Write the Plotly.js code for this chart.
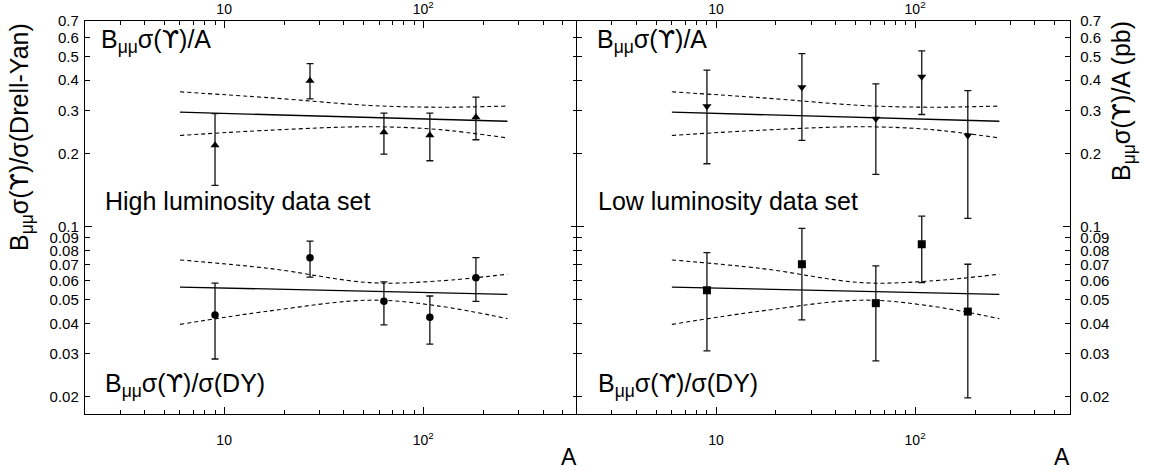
<!DOCTYPE html>
<html><head><meta charset="utf-8">
<script src="https://cdn.plot.ly/plotly-3.0.1.min.js"></script>
<style>body{margin:0;background:#fff}#chart{width:1152px;height:473px}</style>
</head><body><div id="chart"></div>
<script>
// ---- data ----
const massNumbers = [9, 27, 63.5, 108, 184];

// High luminosity data set
const highPerA     = [0.216, 0.398, 0.2445, 0.2377, 0.2818];
const highPerAUp   = [0.2917, 0.468, 0.2926, 0.2926, 0.3404];
const highPerALow  = [0.1479, 0.3352, 0.1987, 0.1866, 0.2276];
const highPerDY    = [0.0434, 0.0746, 0.0494, 0.0425, 0.0617];
const highPerDYUp  = [0.0586, 0.0873, 0.0593, 0.0519, 0.0746];
const highPerDYLow = [0.0286, 0.0621, 0.0395, 0.0329, 0.0493];

// Low luminosity data set
const lowPerA     = [0.3126, 0.374, 0.2776, 0.4127, 0.2371];
const lowPerAUp   = [0.4395, 0.5145, 0.3864, 0.5278, 0.3626];
const lowPerALow  = [0.1814, 0.2261, 0.164, 0.289, 0.1082];
const lowPerDY    = [0.0548, 0.0701, 0.0485, 0.0847, 0.0448];
const lowPerDYUp  = [0.0782, 0.0985, 0.069, 0.1106, 0.0701];
const lowPerDYLow = [0.0309, 0.0414, 0.0281, 0.0589, 0.0198];

// fit lines and their bands
const fitA        = [6, 265];
const fitPerA     = [0.2954, 0.2712];
const fitPerDY    = [0.0565, 0.0527];
const bandA       = [6, 17, 54, 118, 265];
const bandPerAUp   = [0.3582, 0.3385, 0.3148, 0.3097, 0.313];
const bandPerALow  = [0.2371, 0.2492, 0.2574, 0.2509, 0.2315];
const bandPerDYUp  = [0.0730, 0.0673, 0.0589, 0.0598, 0.0638];
const bandPerDYLow = [0.0397, 0.0451, 0.0499, 0.0473, 0.0419];

// axis ticks
const xMajorTicks = [10, 100];
const xMajorText  = ['10', '10<sup>2</sup>'];
const xMinorTicks = [2,3,4,5,6,7,8,9,20,30,40,50,60,70,80,90,200,300,400,500];
const yTicks = [0.02,0.03,0.04,0.05,0.06,0.07,0.08,0.09,0.1,0.2,0.3,0.4,0.5,0.6,0.7];
const yText  = ['0.02','0.03','0.04','0.05','0.06','0.07','0.08','0.09','0.1','0.2','0.3','0.4','0.5','0.6','0.7'];
const yLongTicks = [0.1];

// ---- drawing ----
const FONT = 'Liberation Sans, Arial, Helvetica, sans-serif';
const UPS = '<span style="font-family:DejaVu Sans">ϒ</span>';
const up  = (v, hi) => hi.map((h, i) => h - v[i]);
const dn  = (v, lo) => lo.map((l, i) => v[i] - l);

function lineTrace(x, y, xa, ya, dash) {
  return {x: x, y: y, xaxis: xa, yaxis: ya, mode: 'lines', type: 'scatter', hoverinfo: 'skip',
          line: {color: '#000', width: dash ? 1.1 : 1.3, dash: dash ? '4px,3px' : 'solid', shape: 'spline'}};
}
function pointTrace(y, hi, lo, xa, ya, symbol) {
  return {x: massNumbers, y: y, xaxis: xa, yaxis: ya, mode: 'markers', type: 'scatter',
          marker: {symbol: symbol, size: symbol === 'circle' ? 7.5 : 8, color: '#000'},
          error_y: {type: 'data', symmetric: false, array: up(y, hi), arrayminus: dn(y, lo),
                    color: '#111', thickness: 1.3, width: 3.5}};
}
function dummy(xa, ya) {
  return {x: massNumbers, y: highPerA, xaxis: xa, yaxis: ya, mode: 'none', type: 'scatter',
          hoverinfo: 'skip', showlegend: false};
}

const traces = [];
[['x', 'y', 'triangle-up', 'circle', highPerA, highPerAUp, highPerALow, highPerDY, highPerDYUp, highPerDYLow],
 ['x2', 'y2', 'triangle-down', 'square', lowPerA, lowPerAUp, lowPerALow, lowPerDY, lowPerDYUp, lowPerDYLow]]
.forEach(p => {
  const [xa, ya, symA, symD, a, aU, aL, d, dU, dL] = p;
  traces.push(lineTrace(fitA, fitPerA, xa, ya, false));
  traces.push(lineTrace(fitA, fitPerDY, xa, ya, false));
  traces.push(lineTrace(bandA, bandPerAUp, xa, ya, true));
  traces.push(lineTrace(bandA, bandPerALow, xa, ya, true));
  traces.push(lineTrace(bandA, bandPerDYUp, xa, ya, true));
  traces.push(lineTrace(bandA, bandPerDYLow, xa, ya, true));
  traces.push(pointTrace(a, aU, aL, xa, ya, symA));
  traces.push(pointTrace(d, dU, dL, xa, ya, symD));
});
traces.push(dummy('x3', 'y'), dummy('x4', 'y2'), dummy('x', 'y3'), dummy('x2', 'y4'));

const xRange = [Math.log10(2), Math.log10(600)];
const yRange = [Math.log10(0.017), Math.log10(0.7)];
const leftDomain = [0, 0.5006], rightDomain = [0.4994, 1];

function xAxis(domain, anchor, extra) {
  return Object.assign({
    type: 'log', domain: domain, anchor: anchor, range: xRange, autorange: false,
    showgrid: false, zeroline: false, showline: true, linecolor: '#000', linewidth: 1.4,
    tickmode: 'array', tickvals: xMajorTicks, ticktext: xMajorText,
    ticks: 'inside', ticklen: 7, tickwidth: 1, tickcolor: '#000',
    tickfont: {family: FONT, size: 14, color: '#000'},
    minor: {tickmode: 'array', tickvals: xMinorTicks, ticks: 'inside', ticklen: 4, tickwidth: 1, tickcolor: '#000', showgrid: false}
  }, extra || {});
}
function yAxis(anchor, side, extra) {
  return Object.assign({
    type: 'log', anchor: anchor, side: side, domain: [0, 1], range: yRange, autorange: false,
    showgrid: false, zeroline: false, showline: true, linecolor: '#000', linewidth: 1.2,
    mirror: 'ticks', tickmode: 'array', tickvals: yTicks, ticktext: yText,
    ticks: 'inside', ticklen: 5, tickwidth: 1, tickcolor: '#000',
    tickfont: {family: FONT, size: 15, color: '#000'}, ticklabelstandoff: 2
  }, extra || {});
}

const W = 1152, H = 473, L = 85, R = 82, T = 21, B = 59;
const px = v => (v - L) / (W - L - R);
const py = v => (H - B - v) / (H - T - B);
const BigFont = {family: FONT, size: 25, color: '#000'};

function note(text, x, y, opts) {
  return Object.assign({text: text, xref: 'paper', yref: 'paper', x: px(x), y: py(y),
    xanchor: 'left', yanchor: 'middle', showarrow: false, font: BigFont}, opts || {});
}

const perA  = 'B<sub>μμ</sub>σ(' + UPS + ')/A';
const perDY = 'B<sub>μμ</sub>σ(' + UPS + ')/σ(DY)';

const layout = {
  width: W, height: H, margin: {l: L, r: R, t: T, b: B},
  paper_bgcolor: '#fff', plot_bgcolor: '#fff', showlegend: false,
  font: {family: FONT, color: '#000'},
  xaxis:  xAxis(leftDomain, 'y', {ticklabelstandoff: 13}),
  xaxis2: xAxis(rightDomain, 'y2', {ticklabelstandoff: 13}),
  xaxis3: xAxis(leftDomain, 'y', {overlaying: 'x', side: 'top', ticklabelstandoff: 0}),
  xaxis4: xAxis(rightDomain, 'y2', {overlaying: 'x2', side: 'top', ticklabelstandoff: 0}),
  yaxis:  yAxis('x', 'left'),
  yaxis2: yAxis('x2', 'right', {ticklabelstandoff: 6}),
  yaxis3: yAxis('x', 'left', {overlaying: 'y', showticklabels: false, showline: false, tickvals: yLongTicks, ticktext: ['0.1'], ticklen: 7}),
  yaxis4: yAxis('x2', 'right', {overlaying: 'y2', showticklabels: false, showline: false, tickvals: yLongTicks, ticktext: ['0.1'], ticklen: 7}),
  annotations: [
    note(perA, 99, 41),
    note('High luminosity data set', 103, 201),
    note(perDY, 103, 385),
    note(perA, 595, 41),
    note('Low luminosity data set', 596, 201),
    note(perDY, 596, 385),
    note('A', 569, 457, {xanchor: 'center', font: {family: FONT, size: 23, color: '#000'}}),
    note('A', 1062, 457, {xanchor: 'center', font: {family: FONT, size: 23, color: '#000'}}),
    note('B<sub>μμ</sub>σ(' + UPS + ')/σ(Drell-Yan)', 21, 137, {xanchor: 'center', textangle: -90, font: {family: FONT, size: 25, color: '#000'}}),
    note('B<sub>μμ</sub>σ(' + UPS + ')/A (pb)', 1123, 101, {xanchor: 'center', textangle: -90, font: {family: FONT, size: 25, color: '#000'}})
  ]
};

Plotly.newPlot('chart', traces, layout, {staticPlot: true, displayModeBar: false});
</script>
</body></html>
